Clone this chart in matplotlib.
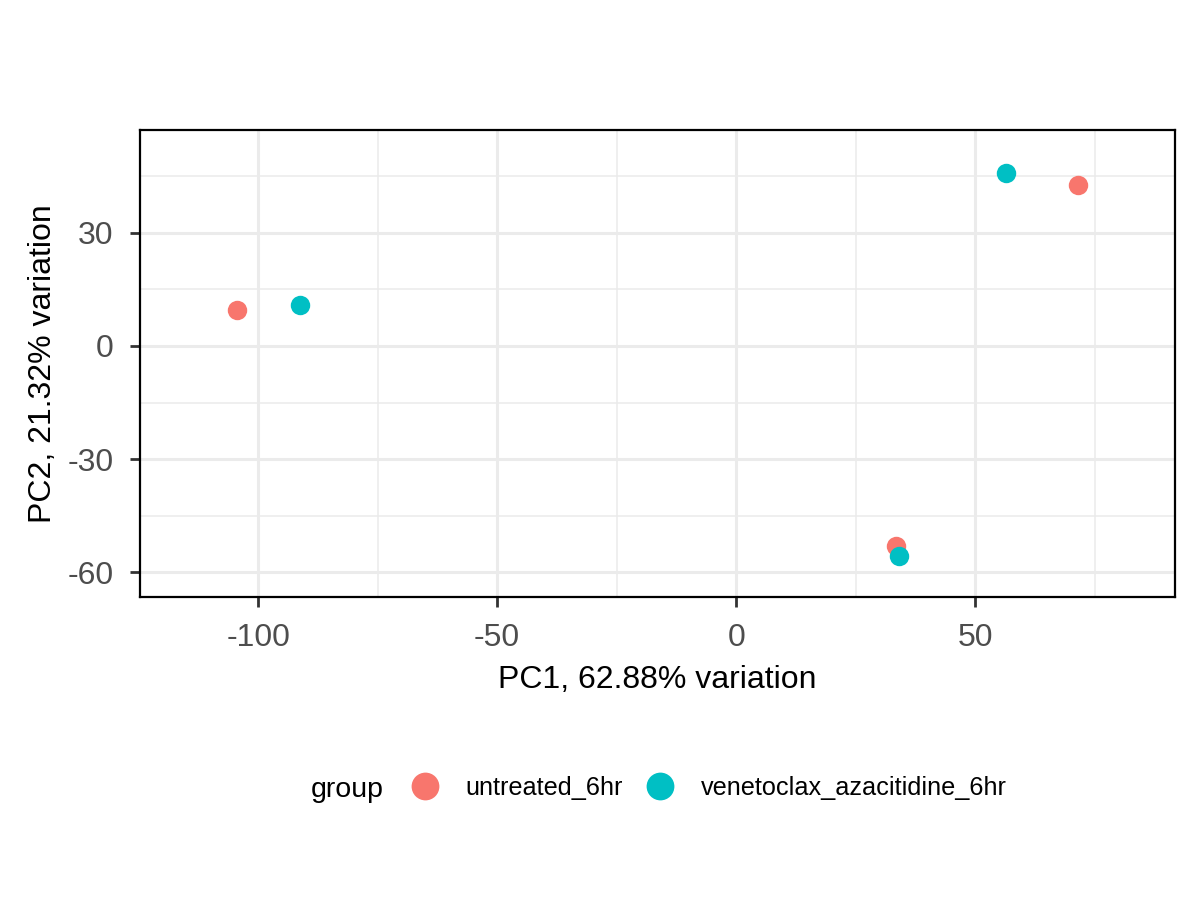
import matplotlib
matplotlib.use('Agg')
import matplotlib.pyplot as plt
from matplotlib.lines import Line2D
from matplotlib.ticker import MultipleLocator

plt.rcParams['font.family'] = ['Liberation Sans', 'DejaVu Sans']
plt.rcParams['axes.unicode_minus'] = False

# PCA scores
groups = ['untreated_6hr', 'venetoclax_azacitidine_6hr']
colours = ['#F8766D', '#00BFC4']
pc1_untreated = [-104.4, 71.5, 33.5]
pc2_untreated = [9.6, 42.7, -53.1]
pc1_treated = [-91.2, 56.5, 34.1]
pc2_treated = [10.9, 45.9, -55.7]
xlab = 'PC1, 62.88% variation'
ylab = 'PC2, 21.32% variation'

fig = plt.figure(figsize=(12, 9), dpi=100)
ax = fig.add_axes([140/1200, 1-597/900, 1035/1200, 467/900])

ax.scatter(pc1_untreated, pc2_untreated, s=196, c=colours[0], linewidths=0, zorder=3)
ax.scatter(pc1_treated, pc2_treated, s=196, c=colours[1], linewidths=0, zorder=3)

ax.set_xlim(-124.7, 91.8)
ax.set_ylim(-66.6, 57.3)
ax.xaxis.set_major_locator(MultipleLocator(50))
ax.xaxis.set_minor_locator(MultipleLocator(25))
ax.yaxis.set_major_locator(MultipleLocator(30))
ax.yaxis.set_minor_locator(MultipleLocator(15))
ax.set_axisbelow(True)
ax.grid(which='major', color='#EBEBEB', lw=2.2)
ax.grid(which='minor', color='#EBEBEB', lw=1.1)
for sp in ax.spines.values():
    sp.set_color('black')
    sp.set_linewidth(1.6)
ax.tick_params(which='major', length=7, width=2, color='#333333',
               labelsize=23, labelcolor='#4D4D4D')
ax.tick_params(axis='x', pad=12)
ax.tick_params(axis='y', pad=12)
ax.tick_params(which='minor', length=0)
ax.set_xlabel(xlab, fontsize=23, labelpad=8)
ax.set_ylabel(ylab, fontsize=23, labelpad=7)

fig.text(311/1200, 1-797/900, 'group', fontsize=20.5, va='baseline', ha='left')
handles = [Line2D([], [], ls='', marker='o', ms=20, mew=0, color=c) for c in colours]
fig.legend(handles, groups, loc='center left', bbox_to_anchor=(412/1200, 1-788/900),
           ncol=2, frameon=False, fontsize=18.2, handlelength=1.0, handletextpad=1.1,
           columnspacing=1.0, borderpad=0, borderaxespad=0)

fig.savefig('out.png', dpi=100, facecolor='white')
